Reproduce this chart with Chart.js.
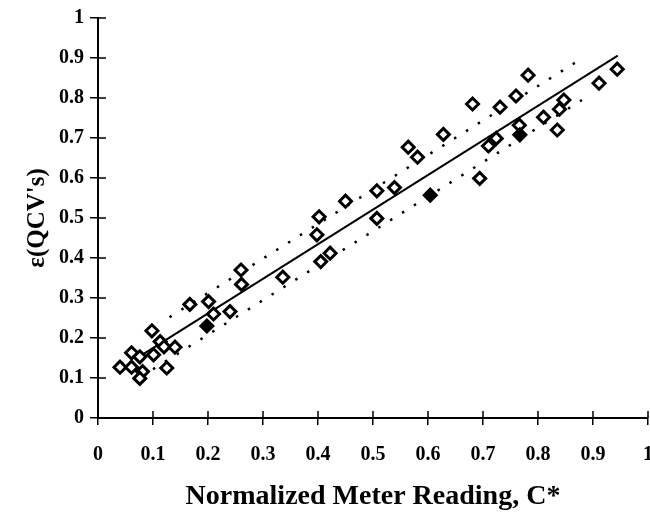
<!DOCTYPE html>
<html>
<head>
<meta charset="utf-8">
<script src="https://cdn.jsdelivr.net/npm/chart.js@4.4.0/dist/chart.umd.min.js"></script>
<style>
html, body { margin: 0; padding: 0; background: #fff; overflow: hidden; }
</style>
</head>
<body>
<canvas id="myChart" width="671" height="514"></canvas>
<script>
/*---------------------------- data ------------------------------------*/
var openX = [0.040,0.061,0.061,0.076,0.081,0.076,0.098,0.101,0.113,0.120,0.125,0.140,0.167,0.201,0.210,0.240,0.260,0.261,0.336,
             0.405,0.422,0.398,0.402,0.450,0.507,0.507,0.539,0.564,0.581,0.628,0.681,0.694,0.710,0.724,0.731,0.760,0.766,
             0.782,0.810,0.835,0.839,0.847,0.911,0.944];
var openY = [0.127,0.163,0.127,0.153,0.116,0.099,0.218,0.158,0.191,0.178,0.125,0.177,0.284,0.291,0.260,0.266,0.370,0.334,0.352,
             0.391,0.412,0.458,0.503,0.542,0.499,0.568,0.576,0.677,0.652,0.709,0.785,0.599,0.680,0.699,0.777,0.805,0.732,
             0.857,0.752,0.720,0.772,0.795,0.837,0.872];
var filledX = [0.198, 0.604, 0.767];
var filledY = [0.230, 0.557, 0.708];

var fitX = [0.07, 0.945];
var fitY = [0.149, 0.906];
var upperX = [0.13, 0.88];
var upperY = [0.252, 0.899];
var lowerX = [0.10, 0.88];
var lowerY = [0.122, 0.795];

var xTicks = [0,0.1,0.2,0.3,0.4,0.5,0.6,0.7,0.8,0.9,1];

function pts(xs, ys) {
  return xs.map(function (x, i) { return {x: x, y: ys[i]}; });
}

function fmt(v) {
  return String(Math.round(v * 10) / 10);
}

/*---------------------------- inner half of the tick marks ------------------------------------*/
var innerTicks = {
  id: 'innerTicks',
  afterDraw: function (chart) {
    var ctx = chart.ctx, xs = chart.scales.x, ys = chart.scales.y;
    ctx.save();
    ctx.strokeStyle = '#000';
    ctx.lineWidth = 1.5;
    ctx.beginPath();
    xTicks.forEach(function (v) {
      var px = xs.getPixelForValue(v);
      ctx.moveTo(px, ys.bottom);
      ctx.lineTo(px, ys.bottom - 7);
    });
    ys.ticks.forEach(function (t) {
      var py = ys.getPixelForValue(t.value);
      ctx.moveTo(xs.left, py);
      ctx.lineTo(xs.left + 8, py);
    });
    ctx.stroke();
    ctx.restore();
  }
};

var serif = "'Liberation Serif', 'Times New Roman', serif";

new Chart("myChart", {
  type: "scatter",
  data: {
    datasets: [{
      data: pts(filledX, filledY),
      pointStyle: 'rectRot',
      pointRadius: 6,
      borderWidth: 3,
      borderColor: '#000',
      backgroundColor: '#000'
    }, {
      data: pts(openX, openY),
      pointStyle: 'rectRot',
      pointRadius: 6,
      borderWidth: 3,
      borderColor: '#000',
      backgroundColor: '#fff'
    }, {
      data: pts(fitX, fitY),
      showLine: true,
      pointRadius: 0,
      borderColor: '#000',
      borderWidth: 2
    }, {
      data: pts(upperX, upperY),
      showLine: true,
      pointRadius: 0,
      borderColor: '#000',
      borderWidth: 2.5,
      borderDash: [2.5, 11.5]
    }, {
      data: pts(lowerX, lowerY),
      showLine: true,
      pointRadius: 0,
      borderColor: '#000',
      borderWidth: 2.5,
      borderDash: [2.5, 11.5]
    }]
  },
  options: {
    responsive: false,
    animation: false,
    layout: { padding: { top: 18, right: 0, left: 0, bottom: 0 } },
    plugins: {
      legend: { display: false },
      tooltip: { enabled: false }
    },
    scales: {
      x: {
        type: 'linear',
        min: 0,
        max: 1,
        afterFit: function (s) { s.height = 96; },
        afterBuildTicks: function (s) { s.ticks = xTicks.map(function (v) { return {value: v}; }); },
        border: { color: '#000', width: 2 },
        grid: { drawOnChartArea: false, drawTicks: true, tickLength: 7, color: '#000', lineWidth: 1.5 },
        ticks: { color: '#000', padding: 18, maxRotation: 0, callback: fmt, font: { family: serif, size: 20, weight: 'bold' } },
        title: {
          display: true,
          text: "Normalized Meter Reading, C*",
          color: '#000',
          padding: { top: 14, bottom: 0 },
          font: { family: serif, size: 28, weight: 'bold' }
        }
      },
      y: {
        min: 0,
        max: 1,
        afterFit: function (s) { s.width = 98; },
        border: { color: '#000', width: 2 },
        grid: { drawOnChartArea: false, drawTicks: true, tickLength: 8, color: '#000', lineWidth: 1.5 },
        ticks: { color: '#000', stepSize: 0.1, padding: 6, callback: fmt, font: { family: serif, size: 20, weight: 'bold' } },
        title: {
          display: true,
          text: "\u03b5(QCV's)",
          color: '#000',
          padding: { top: 23, bottom: 4 },
          font: { family: serif, size: 25, weight: 'bold' }
        }
      }
    }
  },
  plugins: [innerTicks]
});
</script>
</body>
</html>
